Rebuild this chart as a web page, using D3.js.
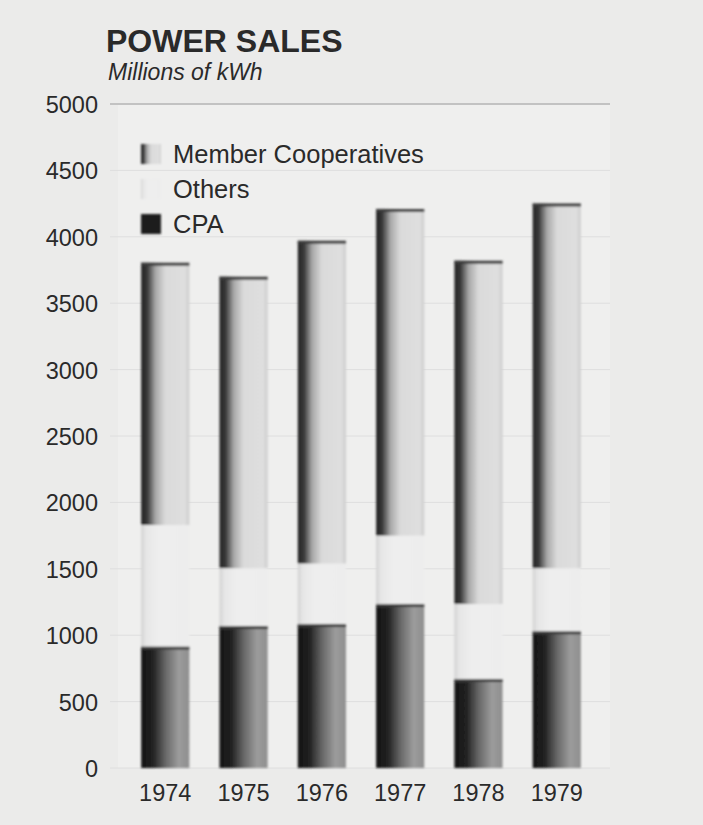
<!DOCTYPE html>
<html>
<head>
<meta charset="utf-8">
<script src="https://cdn.jsdelivr.net/npm/d3@7"></script>
<style>
  html, body { margin: 0; padding: 0; background: #ebebea; }
  svg { display: block; }
  text { font-family: "Liberation Sans", Arial, Helvetica, sans-serif; fill: #2a2a2a; }
</style>
</head>
<body>
<svg id="chart" width="703" height="825"></svg>
<script>
// Power sales, millions of kWh, by year
const years = ["1974", "1975", "1976", "1977", "1978", "1979"];
const cpa = [915, 1070, 1085, 1235, 670, 1030];
const others = [915, 435, 455, 515, 565, 475];
const memberCoops = [1975, 2195, 2430, 2460, 2585, 2745];
const seriesNames = ["CPA", "Others", "Member Cooperatives"];
const yTicks = [0, 500, 1000, 1500, 2000, 2500, 3000, 3500, 4000, 4500, 5000];

const svg = d3.select("#chart");

const x = d3.scaleBand().domain(years).range([102, 620]).paddingInner(0.385).paddingOuter(0.5);
const y = d3.scaleLinear().domain([0, 5000]).range([768, 104]);

const table = years.map((yr, i) => ({ year: yr, "CPA": cpa[i], "Others": others[i], "Member Cooperatives": memberCoops[i] }));
const stacked = d3.stack().keys(seriesNames)(table);

// horizontal shading for each series
const defs = svg.append("defs");
function grad(id, stops) {
  const g = defs.append("linearGradient").attr("id", id).attr("x1", "0").attr("x2", "1").attr("y1", "0").attr("y2", "0");
  stops.forEach(s => g.append("stop").attr("offset", s[0]).attr("stop-color", s[1]));
}
grad("g-cpa", [[0, "#141414"], [0.25, "#222"], [0.5, "#666"], [0.78, "#9c9c9c"], [1, "#8e8e8e"]]);
grad("g-oth", [[0, "#d2d2d2"], [0.1, "#e6e6e6"], [0.35, "#eeeeee"], [1, "#ededed"]]);
grad("g-mem", [[0, "#262626"], [0.12, "#353535"], [0.3, "#a8a8a8"], [0.5, "#dadada"], [0.9, "#dfdfdf"], [1, "#cdcdcd"]]);
const fills = { "CPA": "url(#g-cpa)", "Others": "url(#g-oth)", "Member Cooperatives": "url(#g-mem)" };
const legendFills = { "CPA": "#1c1c1c", "Others": "url(#g-oth)", "Member Cooperatives": "url(#g-mem)" };

const soft = defs.append("filter").attr("id", "soft");
soft.append("feGaussianBlur").attr("stdDeviation", 0.9);

// page border
svg.append("line").attr("x1", 6).attr("x2", 6).attr("y1", 8).attr("y2", 822)
  .attr("stroke", "#8a8a8a").attr("stroke-width", 2).attr("filter", "url(#soft)");
svg.append("line").attr("x1", 6).attr("x2", 703).attr("y1", 4).attr("y2", 4)
  .attr("stroke", "#c4c4c4").attr("stroke-width", 2).attr("filter", "url(#soft)");
svg.append("line").attr("x1", 6).attr("x2", 703).attr("y1", 822).attr("y2", 822)
  .attr("stroke", "#a8a8a8").attr("stroke-width", 3).attr("filter", "url(#soft)");

// plot panel
svg.append("rect").attr("x", 118).attr("y", y(5000)).attr("width", 492).attr("height", y(0) - y(5000))
  .attr("fill", "#efefee");

// gridlines
svg.append("g").selectAll("line").data(yTicks).join("line")
  .attr("x1", 110).attr("x2", 610).attr("y1", d => y(d)).attr("y2", d => y(d))
  .attr("stroke", d => d === 5000 ? "#c2c2c2" : "#dedede").attr("stroke-width", d => d === 5000 ? 2 : 1);
svg.append("line").attr("x1", 610).attr("x2", 610).attr("y1", y(5000)).attr("y2", y(0) + 4)
  .attr("stroke", "#9a9a9a").attr("stroke-width", 2).attr("filter", "url(#soft)");

// y axis labels
const yAxis = d3.axisLeft(y).tickValues(yTicks).tickSize(0).tickPadding(0).tickFormat(d3.format("d"));
const ya = svg.append("g").attr("transform", "translate(98,0)").call(yAxis);
ya.select(".domain").remove();
ya.selectAll("text").attr("font-size", 23.5).attr("fill", "#333").attr("dy", "0.36em")
  .style("font-family", "'Liberation Sans', Arial, sans-serif");

// x axis labels
const xAxis = d3.axisBottom(x).tickSize(0).tickPadding(0);
const xa = svg.append("g").attr("transform", "translate(0,801)").call(xAxis);
xa.select(".domain").remove();
xa.selectAll("text").attr("font-size", 23.5).attr("fill", "#333").attr("y", 0).attr("dy", 0)
  .style("font-family", "'Liberation Sans', Arial, sans-serif");

// stacked bars
const barsG = svg.append("g").attr("filter", "url(#soft)");
stacked.forEach(layer => {
  const key = layer.key;
  const g = barsG.append("g");
  g.selectAll("rect").data(layer).join("rect")
    .attr("x", d => x(d.data.year))
    .attr("width", x.bandwidth())
    .attr("y", d => y(d[1]))
    .attr("height", d => y(d[0]) - y(d[1]))
    .attr("fill", fills[key]);
  if (key !== "Others") {
    // darker cap along the top of shaded segments
    g.selectAll("line").data(layer).join("line")
      .attr("x1", d => x(d.data.year)).attr("x2", d => x(d.data.year) + x.bandwidth())
      .attr("y1", d => y(d[1]) + 1.5).attr("y2", d => y(d[1]) + 1.5)
      .attr("stroke", "#3a3a3a").attr("stroke-width", 3);
  }
});

// title
svg.append("text").attr("x", 106).attr("y", 52).attr("font-size", 32).attr("font-weight", "bold")
  .attr("fill", "#222").text("POWER SALES");
svg.append("text").attr("x", 108).attr("y", 80).attr("font-size", 23).attr("font-style", "italic")
  .attr("fill", "#333").text("Millions of kWh");

// legend
const legendOrder = ["Member Cooperatives", "Others", "CPA"];
const lg = svg.append("g");
legendOrder.forEach((k, i) => {
  const cy = 154 + i * 35;
  lg.append("rect").attr("x", 141).attr("y", cy - 10).attr("width", 20).attr("height", 20)
    .attr("fill", legendFills[k]).attr("filter", "url(#soft)");
  lg.append("text").attr("x", 173).attr("y", cy).attr("dy", "0.36em").attr("font-size", 25.5)
    .attr("fill", "#333").text(k);
});
</script>
</body>
</html>
